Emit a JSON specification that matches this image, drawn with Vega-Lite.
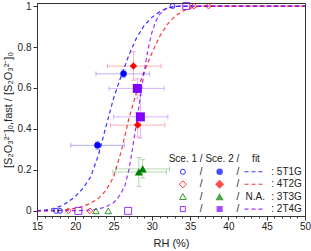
{
  "$schema": "https://vega.github.io/schema/vega-lite/v6.json",
  "width": 268,
  "height": 213,
  "autosize": "none",
  "padding": {"left": 37, "top": 3, "right": 6, "bottom": 35},
  "config": {
    "font": "Liberation Sans",
    "view": {"stroke": "#333333", "strokeWidth": 1},
    "axis": {"domainColor": "#333333", "tickColor": "#333333", "labelColor": "#222222", "titleColor": "#222222", "labelFontSize": 10, "titleFontSize": 11, "titleFontWeight": "normal", "grid": false}
  },
  "datasets": {
    "pts": [
      {"series": "5T1G", "sce": "Sce. 1", "rh": 17.5, "frac": 0},
      {"series": "5T1G", "sce": "Sce. 1", "rh": 18.0, "frac": 0},
      {"series": "5T1G", "sce": "Sce. 1", "rh": 32.7, "frac": 1},
      {"series": "4T2G", "sce": "Sce. 1", "rh": 19.1, "frac": 0},
      {"series": "4T2G", "sce": "Sce. 1", "rh": 21.9, "frac": 0},
      {"series": "4T2G", "sce": "Sce. 1", "rh": 35.5, "frac": 1},
      {"series": "4T2G", "sce": "Sce. 1", "rh": 37.4, "frac": 1},
      {"series": "3T3G", "sce": "Sce. 1", "rh": 22.7, "frac": 0},
      {"series": "3T3G", "sce": "Sce. 1", "rh": 24.3, "frac": 0},
      {"series": "2T4G", "sce": "Sce. 1", "rh": 20.4, "frac": 0},
      {"series": "2T4G", "sce": "Sce. 1", "rh": 26.9, "frac": 0},
      {"series": "2T4G", "sce": "Sce. 1", "rh": 34.5, "frac": 1},
      {"series": "5T1G", "sce": "Sce. 2", "rh": 26.3, "frac": 0.669, "rh_lo": 22.7, "rh_hi": 29.7, "frac_lo": 0.65, "frac_hi": 0.69},
      {"series": "5T1G", "sce": "Sce. 2", "rh": 22.9, "frac": 0.32, "rh_lo": 19.4, "rh_hi": 26.4, "frac_lo": 0.30, "frac_hi": 0.34},
      {"series": "4T2G", "sce": "Sce. 2", "rh": 27.6, "frac": 0.707, "rh_lo": 24.2, "rh_hi": 31.2, "frac_lo": 0.638, "frac_hi": 0.777},
      {"series": "4T2G", "sce": "Sce. 2", "rh": 28.15, "frac": 0.419, "rh_lo": 24.6, "rh_hi": 31.7, "frac_lo": 0.36, "frac_hi": 0.48},
      {"series": "3T3G", "sce": "Sce. 2", "rh": 28.3, "frac": 0.19, "rh_lo": 24.9, "rh_hi": 31.9, "frac_lo": 0.12, "frac_hi": 0.26},
      {"series": "3T3G", "sce": "Sce. 2", "rh": 28.8, "frac": 0.205, "rh_lo": 25.3, "rh_hi": 32.3, "frac_lo": 0.16, "frac_hi": 0.25},
      {"series": "2T4G", "sce": "Sce. 2", "rh": 28.1, "frac": 0.598, "rh_lo": 24.4, "rh_hi": 31.6, "frac_lo": 0.55, "frac_hi": 0.645},
      {"series": "2T4G", "sce": "Sce. 2", "rh": 28.5, "frac": 0.459, "rh_lo": 25.0, "rh_hi": 32.1, "frac_lo": 0.355, "frac_hi": 0.565}
    ],
    "fit": [
      {"series": "5T1G", "rh": 15, "frac": 0.001},
      {"series": "5T1G", "rh": 16, "frac": 0.004},
      {"series": "5T1G", "rh": 17, "frac": 0.01},
      {"series": "5T1G", "rh": 18, "frac": 0.022},
      {"series": "5T1G", "rh": 19, "frac": 0.042},
      {"series": "5T1G", "rh": 20, "frac": 0.07},
      {"series": "5T1G", "rh": 21, "frac": 0.11},
      {"series": "5T1G", "rh": 22, "frac": 0.165},
      {"series": "5T1G", "rh": 23, "frac": 0.27},
      {"series": "5T1G", "rh": 24, "frac": 0.41},
      {"series": "5T1G", "rh": 25, "frac": 0.55},
      {"series": "5T1G", "rh": 26, "frac": 0.66},
      {"series": "5T1G", "rh": 27, "frac": 0.76},
      {"series": "5T1G", "rh": 28, "frac": 0.845},
      {"series": "5T1G", "rh": 29, "frac": 0.905},
      {"series": "5T1G", "rh": 30, "frac": 0.945},
      {"series": "5T1G", "rh": 31, "frac": 0.972},
      {"series": "5T1G", "rh": 32, "frac": 0.99},
      {"series": "5T1G", "rh": 33, "frac": 0.998},
      {"series": "5T1G", "rh": 34, "frac": 1.0},
      {"series": "5T1G", "rh": 50, "frac": 1.0},
      {"series": "4T2G", "rh": 15, "frac": 0.0},
      {"series": "4T2G", "rh": 18, "frac": 0.002},
      {"series": "4T2G", "rh": 19, "frac": 0.006},
      {"series": "4T2G", "rh": 20, "frac": 0.012},
      {"series": "4T2G", "rh": 21, "frac": 0.022},
      {"series": "4T2G", "rh": 22, "frac": 0.037},
      {"series": "4T2G", "rh": 23, "frac": 0.06},
      {"series": "4T2G", "rh": 24, "frac": 0.1},
      {"series": "4T2G", "rh": 25, "frac": 0.165},
      {"series": "4T2G", "rh": 26, "frac": 0.29},
      {"series": "4T2G", "rh": 27, "frac": 0.45},
      {"series": "4T2G", "rh": 28, "frac": 0.58},
      {"series": "4T2G", "rh": 29, "frac": 0.68},
      {"series": "4T2G", "rh": 30, "frac": 0.77},
      {"series": "4T2G", "rh": 31, "frac": 0.85},
      {"series": "4T2G", "rh": 32, "frac": 0.91},
      {"series": "4T2G", "rh": 33, "frac": 0.95},
      {"series": "4T2G", "rh": 34, "frac": 0.975},
      {"series": "4T2G", "rh": 35, "frac": 0.99},
      {"series": "4T2G", "rh": 36, "frac": 0.998},
      {"series": "4T2G", "rh": 37, "frac": 1.0},
      {"series": "4T2G", "rh": 50, "frac": 1.0},
      {"series": "2T4G", "rh": 15, "frac": 0.0},
      {"series": "2T4G", "rh": 20, "frac": 0.001},
      {"series": "2T4G", "rh": 22, "frac": 0.004},
      {"series": "2T4G", "rh": 23, "frac": 0.009},
      {"series": "2T4G", "rh": 24, "frac": 0.02},
      {"series": "2T4G", "rh": 25, "frac": 0.04},
      {"series": "2T4G", "rh": 25.5, "frac": 0.06},
      {"series": "2T4G", "rh": 26, "frac": 0.088},
      {"series": "2T4G", "rh": 26.5, "frac": 0.125},
      {"series": "2T4G", "rh": 27, "frac": 0.2},
      {"series": "2T4G", "rh": 27.5, "frac": 0.31},
      {"series": "2T4G", "rh": 28, "frac": 0.43},
      {"series": "2T4G", "rh": 28.5, "frac": 0.56},
      {"series": "2T4G", "rh": 29, "frac": 0.68},
      {"series": "2T4G", "rh": 29.5, "frac": 0.79},
      {"series": "2T4G", "rh": 30, "frac": 0.87},
      {"series": "2T4G", "rh": 30.5, "frac": 0.925},
      {"series": "2T4G", "rh": 31, "frac": 0.96},
      {"series": "2T4G", "rh": 31.5, "frac": 0.978},
      {"series": "2T4G", "rh": 32, "frac": 0.99},
      {"series": "2T4G", "rh": 33, "frac": 0.998},
      {"series": "2T4G", "rh": 34, "frac": 1.0},
      {"series": "2T4G", "rh": 50, "frac": 1.0}
    ]
  },
  "data": {"name": "pts"},
  "resolve": {"axis": {"x": "independent", "y": "independent"}},
  "layer": [
  {
  "resolve": {"scale": {"size": "independent"}},
  "layer": [
    {
      "data": {"name": "fit"},
      "mark": {"type": "line", "strokeDash": [4, 3], "strokeWidth": 1.2, "opacity": 0.8},
      "encoding": {
        "x": {"field": "rh", "type": "quantitative", "scale": {"domain": [15, 50], "nice": false, "zero": false},
          "axis": {"title": "RH (%)", "titlePadding": 6, "values": [15, 25, 35, 45], "format": "d",
            "labelFlush": false, "labelPadding": 1, "labelOverlap": false, "tickSize": 4}},
        "y": {"field": "frac", "type": "quantitative", "scale": {"domain": [-0.025, 1.015], "nice": false, "zero": false},
          "axis": {"title": "[S₂O₃²⁻]₀,fast / [S₂O₃²⁻]₀", "values": [0,0.1,0.2,0.3,0.4,0.5,0.6,0.7,0.8,0.9,1],
            "labelExpr": "round(datum.value*10) % 2 === 0 ? format(datum.value, '~g') : ''", "labelFlush": false, "labelOverlap": false,
            "tickSize": {"condition": {"test": "round(datum.value*10) % 2 === 0", "value": 4}, "value": 2}}},
        "color": {"field": "series", "type": "nominal", "legend": null,
          "scale": {"domain": ["5T1G", "4T2G", "3T3G", "2T4G"], "range": ["#0000ff", "#ff0000", "#008000", "#8000ff"]}},
        "detail": {"field": "series"}
      }
    },
    {
      "transform": [{"filter": "datum.sce === 'Sce. 2'"}],
      "mark": {"type": "rule", "strokeWidth": 1, "opacity": 0.3},
      "encoding": {
        "x": {"field": "rh_lo", "type": "quantitative"},
        "x2": {"field": "rh_hi"},
        "y": {"field": "frac", "type": "quantitative"},
        "color": {"field": "series", "type": "nominal"}
      }
    },
    {
      "transform": [{"filter": "datum.sce === 'Sce. 2'"}],
      "mark": {"type": "tick", "orient": "vertical", "size": 5, "thickness": 1, "opacity": 0.3},
      "encoding": {
        "x": {"field": "rh_lo", "type": "quantitative"},
        "y": {"field": "frac", "type": "quantitative"},
        "color": {"field": "series", "type": "nominal"}
      }
    },
    {
      "transform": [{"filter": "datum.sce === 'Sce. 2'"}],
      "mark": {"type": "tick", "orient": "vertical", "size": 5, "thickness": 1, "opacity": 0.3},
      "encoding": {
        "x": {"field": "rh_hi", "type": "quantitative"},
        "y": {"field": "frac", "type": "quantitative"},
        "color": {"field": "series", "type": "nominal"}
      }
    },
    {
      "transform": [{"filter": "datum.sce === 'Sce. 2'"}],
      "mark": {"type": "rule", "strokeWidth": 1, "opacity": 0.3},
      "encoding": {
        "x": {"field": "rh", "type": "quantitative"},
        "y": {"field": "frac_lo", "type": "quantitative"},
        "y2": {"field": "frac_hi"},
        "color": {"field": "series", "type": "nominal"}
      }
    },
    {
      "transform": [{"filter": "datum.sce === 'Sce. 2'"}],
      "mark": {"type": "tick", "orient": "horizontal", "size": 5, "thickness": 1, "opacity": 0.3},
      "encoding": {
        "x": {"field": "rh", "type": "quantitative"},
        "y": {"field": "frac_lo", "type": "quantitative"},
        "color": {"field": "series", "type": "nominal"}
      }
    },
    {
      "transform": [{"filter": "datum.sce === 'Sce. 2'"}],
      "mark": {"type": "tick", "orient": "horizontal", "size": 5, "thickness": 1, "opacity": 0.3},
      "encoding": {
        "x": {"field": "rh", "type": "quantitative"},
        "y": {"field": "frac_hi", "type": "quantitative"},
        "color": {"field": "series", "type": "nominal"}
      }
    },
    {
      "transform": [{"filter": "datum.sce === 'Sce. 1'"}],
      "mark": {"type": "point", "filled": false, "strokeWidth": 1, "opacity": 0.8},
      "encoding": {
        "x": {"field": "rh", "type": "quantitative"},
        "y": {"field": "frac", "type": "quantitative"},
        "color": {"field": "series", "type": "nominal"},
        "shape": {"field": "series", "type": "nominal", "legend": null,
          "scale": {"domain": ["5T1G", "4T2G", "3T3G", "2T4G"], "range": ["circle", "diamond", "triangle-up", "square"]}},
        "size": {"field": "series", "type": "nominal", "legend": null,
          "scale": {"domain": ["5T1G", "4T2G", "3T3G", "2T4G"], "range": [25, 49, 45, 25]}}
      }
    },
    {
      "transform": [{"filter": "datum.sce === 'Sce. 2'"}],
      "mark": {"type": "point", "filled": true, "opacity": 1},
      "encoding": {
        "x": {"field": "rh", "type": "quantitative"},
        "y": {"field": "frac", "type": "quantitative"},
        "color": {"field": "series", "type": "nominal"},
        "shape": {"field": "series", "type": "nominal"},
        "size": {"field": "series", "type": "nominal", "legend": null,
          "scale": {"domain": ["5T1G", "4T2G", "3T3G", "2T4G"], "range": [42, 81, 70, 36]}}
      }
    },
    {"data": {"values": [{}]}, "mark": {"type": "text", "align": "left", "baseline": "middle", "fontSize": 10, "color": "#222222", "text": "Sce. 1 / Sce. 2 /"},
      "encoding": {"x": {"datum": 32.2}, "y": {"datum": 0.252}}},
    {"data": {"values": [{}]}, "mark": {"type": "text", "align": "center", "baseline": "middle", "fontSize": 10, "color": "#222222", "text": "fit"},
      "encoding": {"x": {"datum": 43.6}, "y": {"datum": 0.252}}},

    {"data": {"values": [{}]}, "mark": {"type": "point", "filled": false, "strokeWidth": 1, "opacity": 0.8, "size": 25},
      "encoding": {"x": {"datum": 34.05}, "y": {"datum": 0.191}, "color": {"datum": "5T1G"}, "shape": {"datum": "5T1G"}}},
    {"data": {"values": [{}]}, "mark": {"type": "point", "filled": true, "size": 42},
      "encoding": {"x": {"datum": 38.85}, "y": {"datum": 0.191}, "color": {"datum": "5T1G"}, "shape": {"datum": "5T1G"}}},
    {"data": {"values": [{}]}, "mark": {"type": "rule", "strokeDash": [4, 3], "strokeWidth": 1.2, "opacity": 0.8},
      "encoding": {"x": {"datum": 42.1}, "x2": {"datum": 44.75}, "y": {"datum": 0.191}, "color": {"datum": "5T1G"}}},
    {"data": {"values": [{}]}, "mark": {"type": "text", "align": "center", "baseline": "middle", "fontSize": 10, "color": "#222222", "text": "/"},
      "encoding": {"x": {"datum": 36.45}, "y": {"datum": 0.191}}},
    {"data": {"values": [{}]}, "mark": {"type": "text", "align": "center", "baseline": "middle", "fontSize": 10, "color": "#222222", "text": "/"},
      "encoding": {"x": {"datum": 41.25}, "y": {"datum": 0.191}}},
    {"data": {"values": [{}]}, "mark": {"type": "text", "align": "left", "baseline": "middle", "fontSize": 10, "color": "#222222", "text": ": 5T1G"},
      "encoding": {"x": {"datum": 45.6}, "y": {"datum": 0.191}}},

    {"data": {"values": [{}]}, "mark": {"type": "point", "filled": false, "strokeWidth": 1, "opacity": 0.8, "size": 49},
      "encoding": {"x": {"datum": 34.05}, "y": {"datum": 0.130}, "color": {"datum": "4T2G"}, "shape": {"datum": "4T2G"}}},
    {"data": {"values": [{}]}, "mark": {"type": "point", "filled": true, "size": 81},
      "encoding": {"x": {"datum": 38.85}, "y": {"datum": 0.130}, "color": {"datum": "4T2G"}, "shape": {"datum": "4T2G"}}},
    {"data": {"values": [{}]}, "mark": {"type": "rule", "strokeDash": [4, 3], "strokeWidth": 1.2, "opacity": 0.8},
      "encoding": {"x": {"datum": 42.1}, "x2": {"datum": 44.75}, "y": {"datum": 0.130}, "color": {"datum": "4T2G"}}},
    {"data": {"values": [{}]}, "mark": {"type": "text", "align": "center", "baseline": "middle", "fontSize": 10, "color": "#222222", "text": "/"},
      "encoding": {"x": {"datum": 36.45}, "y": {"datum": 0.130}}},
    {"data": {"values": [{}]}, "mark": {"type": "text", "align": "center", "baseline": "middle", "fontSize": 10, "color": "#222222", "text": "/"},
      "encoding": {"x": {"datum": 41.25}, "y": {"datum": 0.130}}},
    {"data": {"values": [{}]}, "mark": {"type": "text", "align": "left", "baseline": "middle", "fontSize": 10, "color": "#222222", "text": ": 4T2G"},
      "encoding": {"x": {"datum": 45.6}, "y": {"datum": 0.130}}},

    {"data": {"values": [{}]}, "mark": {"type": "point", "filled": false, "strokeWidth": 1, "opacity": 0.8, "size": 45},
      "encoding": {"x": {"datum": 34.05}, "y": {"datum": 0.070}, "color": {"datum": "3T3G"}, "shape": {"datum": "3T3G"}}},
    {"data": {"values": [{}]}, "mark": {"type": "point", "filled": true, "size": 70},
      "encoding": {"x": {"datum": 38.85}, "y": {"datum": 0.070}, "color": {"datum": "3T3G"}, "shape": {"datum": "3T3G"}}},
    {"data": {"values": [{}]}, "mark": {"type": "text", "align": "center", "baseline": "middle", "fontSize": 10, "color": "#222222", "text": "N.A."},
      "encoding": {"x": {"datum": 43.5}, "y": {"datum": 0.070}}},
    {"data": {"values": [{}]}, "mark": {"type": "text", "align": "center", "baseline": "middle", "fontSize": 10, "color": "#222222", "text": "/"},
      "encoding": {"x": {"datum": 36.45}, "y": {"datum": 0.070}}},
    {"data": {"values": [{}]}, "mark": {"type": "text", "align": "center", "baseline": "middle", "fontSize": 10, "color": "#222222", "text": "/"},
      "encoding": {"x": {"datum": 41.25}, "y": {"datum": 0.070}}},
    {"data": {"values": [{}]}, "mark": {"type": "text", "align": "left", "baseline": "middle", "fontSize": 10, "color": "#222222", "text": ": 3T3G"},
      "encoding": {"x": {"datum": 45.6}, "y": {"datum": 0.070}}},

    {"data": {"values": [{}]}, "mark": {"type": "point", "filled": false, "strokeWidth": 1, "opacity": 0.8, "size": 25},
      "encoding": {"x": {"datum": 34.05}, "y": {"datum": 0.009}, "color": {"datum": "2T4G"}, "shape": {"datum": "2T4G"}}},
    {"data": {"values": [{}]}, "mark": {"type": "point", "filled": true, "size": 36},
      "encoding": {"x": {"datum": 38.85}, "y": {"datum": 0.009}, "color": {"datum": "2T4G"}, "shape": {"datum": "2T4G"}}},
    {"data": {"values": [{}]}, "mark": {"type": "rule", "strokeDash": [4, 3], "strokeWidth": 1.2, "opacity": 0.8},
      "encoding": {"x": {"datum": 42.1}, "x2": {"datum": 44.75}, "y": {"datum": 0.009}, "color": {"datum": "2T4G"}}},
    {"data": {"values": [{}]}, "mark": {"type": "text", "align": "center", "baseline": "middle", "fontSize": 10, "color": "#222222", "text": "/"},
      "encoding": {"x": {"datum": 36.45}, "y": {"datum": 0.009}}},
    {"data": {"values": [{}]}, "mark": {"type": "text", "align": "center", "baseline": "middle", "fontSize": 10, "color": "#222222", "text": "/"},
      "encoding": {"x": {"datum": 41.25}, "y": {"datum": 0.009}}},
    {"data": {"values": [{}]}, "mark": {"type": "text", "align": "left", "baseline": "middle", "fontSize": 10, "color": "#222222", "text": ": 2T4G"},
      "encoding": {"x": {"datum": 45.6}, "y": {"datum": 0.009}}}
  ]
  },
  {
    "data": {"values": [{}]},
    "mark": {"type": "point", "opacity": 0},
    "encoding": {
      "x": {"datum": 20, "axis": {"orient": "bottom", "values": [20, 30, 40, 50], "format": "d", "labelFlush": false, "labelPadding": 1, "labelOverlap": false, "domain": false, "title": null, "tickSize": 4}},
      "y": {"datum": 0, "axis": null}
    }
  },
  {
    "data": {"values": [{}]},
    "mark": {"type": "point", "opacity": 0},
    "encoding": {
      "x": {"datum": 15, "axis": {"orient": "bottom", "values": [16,17,18,19,21,22,23,24,26,27,28,29,31,32,33,34,36,37,38,39,41,42,43,44,46,47,48,49], "labels": false, "domain": false, "title": null, "tickSize": 2}},
      "y": {"datum": 0, "axis": null}
    }
  }
  ]
}
